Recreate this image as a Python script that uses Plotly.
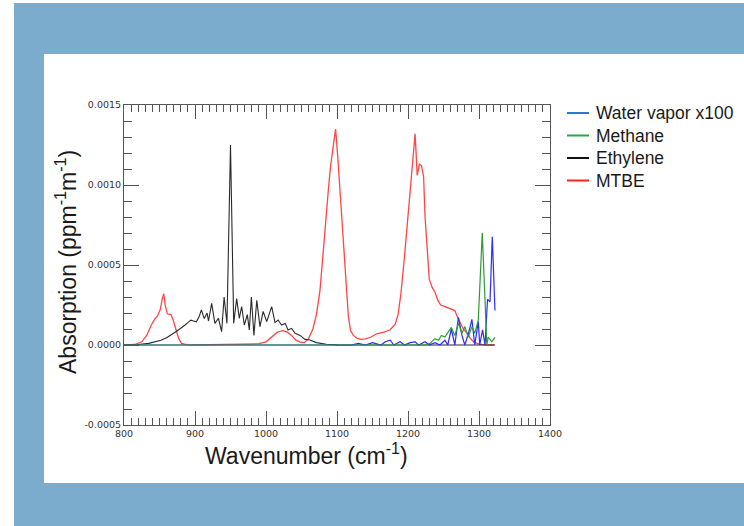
import plotly.graph_objects as go

# ---- spectra (wavenumber in cm-1, absorption in ppm-1 m-1) ----
mtbe_wn = [800, 815, 825, 832, 838, 843, 847, 851, 854, 856, 858, 861, 866, 869, 873, 877, 881, 888,
           900, 950, 990, 1000, 1008, 1016, 1024, 1030, 1036, 1042, 1048, 1054, 1060, 1066, 1071,
           1076, 1080, 1084, 1088, 1091, 1094, 1098, 1101, 1104, 1107, 1110, 1113, 1116, 1119, 1123,
           1128, 1134, 1140, 1148, 1156, 1166, 1175, 1182, 1186, 1190, 1195, 1200, 1205, 1208, 1210,
           1213, 1216, 1219, 1222, 1224, 1227, 1230, 1234, 1238, 1242, 1246, 1252, 1258, 1264, 1266,
           1270, 1274, 1278, 1283, 1288, 1293, 1300, 1310, 1322]
mtbe_abs = [0, 0.000003, 0.00002, 0.00006, 0.00012, 0.00016, 0.00018, 0.00022, 0.00029, 0.00032,
            0.00025, 0.000195, 0.00019, 0.00016, 0.0001, 0.00004, 0.00001, 0.000002,
            0, 0.000002, 0.000008, 0.00002, 0.00005, 0.00008, 0.00009, 0.00008, 0.00006, 0.00003,
            0.000018, 0.000015, 0.00004, 0.0001, 0.00019,
            0.00034, 0.00055, 0.00078, 0.00098, 0.00112, 0.00122, 0.00135, 0.00118, 0.00099, 0.0008,
            0.00058, 0.00036, 0.00018, 0.00009, 0.00006,
            0.000042, 0.000035, 0.000038, 0.00005, 0.00007, 0.00008, 0.000095, 0.00013, 0.00019,
            0.00032, 0.00055, 0.0008, 0.00104, 0.0012, 0.00132,
            0.00106, 0.00113, 0.00112, 0.00105, 0.0008, 0.0006, 0.00041, 0.00036, 0.00033, 0.00028,
            0.00025, 0.00024, 0.00023, 0.00022, 0.000215,
            0.00017, 0.00013, 0.0001, 0.000075, 0.00004, 0.000018, 0.000005, 0, 0]

ethylene_wn = [800, 820, 835, 845, 852, 860, 866, 872, 877, 882, 886, 890, 894, 898, 902, 906, 909,
               913, 917, 919, 923.5, 928, 933, 937.5, 941, 945, 950, 954.5, 958.7, 962.4, 965.7,
               969.5, 973.7, 976.5, 979.4, 983, 987, 991.5, 996, 1001, 1004, 1008, 1012.7, 1017,
               1022, 1027, 1031, 1036, 1041, 1048, 1055, 1062, 1071, 1085, 1100, 1120, 1322]
ethylene_abs = [0, 0.000003, 0.00001, 0.00002, 0.00003, 0.000045, 0.00006, 0.00008, 0.000095,
                0.00011, 0.000125, 0.00014, 0.000155, 0.00015, 0.000145, 0.00018, 0.00022,
                0.000165, 0.0002, 0.00015, 0.00026, 0.000135, 0.000167, 0.000083, 0.0003, 0.000135,
                0.00125, 0.000135, 0.00029, 0.000167, 0.00024,
                0.000125, 0.00019, 0.000094, 0.0003, 0.00006, 0.00028, 0.000115, 0.00021, 0.000146,
                0.00019, 0.00024, 0.00014, 0.000156,
                0.000125, 0.000135, 0.000094, 0.000104, 0.000073, 0.00006, 0.000035, 0.000031,
                0.000015, 0.000005, 0.000001, 0, 0]

water_wn = [800, 1120, 1130, 1140, 1150, 1162, 1168, 1175, 1180, 1189, 1195, 1203, 1210, 1215,
            1224, 1230, 1238, 1245, 1252, 1256, 1261, 1266, 1271, 1276, 1280, 1285, 1290, 1294,
            1299, 1301, 1305, 1308.5, 1312, 1315.5, 1318.7, 1322.5]
water_abs = [0, 0, 0.00001, 0, 0.000015, 0, 0.00002, 0.00003, 0, 0.00002, 0, 0.000015, 0.00002, 0,
             0.00002, 0, 0.000015, 0, 0.00003, 0, 0.0001, 0, 0.000173, 0.00006, 0, 0.00007,
             0.00016, 0, 0.000146, 0, 0.000094, 0, 0.000285, 0.00027, 0.000677, 0.000215]

methane_wn = [800, 1225, 1231, 1238, 1243, 1247, 1252, 1257, 1261, 1266, 1271, 1276, 1280, 1285,
              1290, 1294, 1299, 1304.6, 1311, 1313, 1318, 1322.5]
methane_abs = [0, 0, 0.00001, 0.00004, 0.00003, 0.00006, 0.00005, 0.00008, 0.00011, 0.00006,
               0.000135, 0.000073, 0.000115, 0.00005, 0.000115, 0.000073, 0.000156, 0.000702, 0,
               0.00005, 0.00002, 0.000048]

# ---- axis ticks ----
x_tick_vals = [800, 900, 1000, 1100, 1200, 1300, 1400]
x_tick_text = ["800", "900", "1000", "1100", "1200", "1300", "1400"]
y_tick_vals = [-0.0005, 0.0, 0.0005, 0.0010, 0.0015]
y_tick_text = ["-0.0005", "0.0000", "0.0005", "0.0010", "0.0015"]

# ---- legend entries (label, swatch colour) ----
legend_labels = ["Water vapor x100", "Methane", "Ethylene", "MTBE"]
legend_colors = ["#2a7ad0", "#22a84a", "#111111", "#ff2020"]

W, H = 744, 526
PL, PR, PT, PB = 124, 550, 105, 425   # plot area in pixels


def px_x(px):
    return (px - PL) / (PR - PL)


def px_y(py):
    return (PB - py) / (PB - PT)


fig = go.Figure()
fig.add_trace(go.Scatter(x=mtbe_wn, y=mtbe_abs, mode="lines", name="MTBE",
                         line=dict(color="#ff4545", width=1.3), showlegend=False))
fig.add_trace(go.Scatter(x=ethylene_wn, y=ethylene_abs, mode="lines", name="Ethylene",
                         line=dict(color="#2a2a2a", width=1.1), showlegend=False))
fig.add_trace(go.Scatter(x=water_wn, y=water_abs, mode="lines", name="Water vapor x100",
                         line=dict(color="#2b2bff", width=1.2), showlegend=False))
fig.add_trace(go.Scatter(x=methane_wn, y=methane_abs, mode="lines", name="Methane",
                         line=dict(color="#2e9a35", width=1.2), showlegend=False))

shapes = [
    # slide frame
    dict(type="rect", xref="paper", yref="paper", layer="below",
         x0=px_x(14), x1=px_x(W + 20), y0=px_y(H + 20), y1=px_y(3),
         fillcolor="#7bacce", line=dict(width=0)),
    dict(type="rect", xref="paper", yref="paper", layer="below",
         x0=px_x(44), x1=px_x(W + 20), y0=px_y(483), y1=px_y(54),
         fillcolor="white", line=dict(width=0)),
]
title_font = dict(family="Liberation Sans, Arial", size=23, color="#1a1a1a")
annotations = [
    dict(text="Wavenumber (cm<sup>-1</sup>)", xref="paper", yref="paper",
         x=px_x(306), y=px_y(454), showarrow=False, xanchor="center", yanchor="middle",
         font=title_font),
    dict(text="Absorption (ppm<sup>-1</sup>m<sup>-1</sup>)", xref="paper", yref="paper",
         x=px_x(66), y=px_y(262), showarrow=False, textangle=-90,
         xanchor="center", yanchor="middle", font=title_font),
]
row_y = [113, 135.5, 158, 180.5]
for lab, col, ry in zip(legend_labels, legend_colors, row_y):
    shapes.append(dict(type="line", xref="paper", yref="paper",
                       x0=px_x(567), x1=px_x(589), y0=px_y(ry), y1=px_y(ry),
                       line=dict(color=col, width=2)))
    annotations.append(dict(text=lab, xref="paper", yref="paper", x=px_x(594), y=px_y(ry),
                            showarrow=False, xanchor="left", yanchor="middle",
                            font=dict(family="Liberation Sans, Arial", size=17.5,
                                      color="#1a1a1a")))

axis_common = dict(showline=True, linecolor="#555", linewidth=1, mirror="allticks",
                   ticks="inside", tickcolor="#555", tickwidth=1, showgrid=False,
                   zeroline=False,
                   tickfont=dict(family="DejaVu Sans", size=9.5, color="#333"))

fig.update_layout(
    width=W, height=H,
    margin=dict(l=PL, r=W - PR, t=PT, b=H - PB),
    paper_bgcolor="white", plot_bgcolor="white",
    shapes=shapes, annotations=annotations, showlegend=False,
    xaxis=dict(range=[800, 1400], tickvals=x_tick_vals, ticktext=x_tick_text, ticklen=14,
               minor=dict(dtick=10, tick0=800, ticks="inside", ticklen=7, tickcolor="#555",
                          showgrid=False),
               **axis_common),
    yaxis=dict(range=[-0.0005, 0.0015], tickvals=y_tick_vals, ticktext=y_tick_text, ticklen=15,
               minor=dict(dtick=0.0001, tick0=0, ticks="inside", ticklen=8, tickcolor="#555",
                          showgrid=False),
               **axis_common),
)

fig.write_html("out.html")
